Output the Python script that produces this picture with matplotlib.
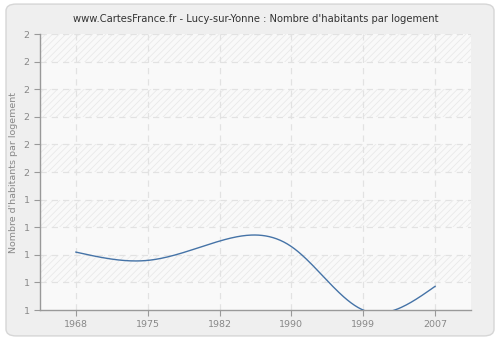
import numpy as np
import matplotlib
matplotlib.use("Agg")
import matplotlib.pyplot as plt
from matplotlib.patches import FancyBboxPatch
from matplotlib.ticker import FormatStrFormatter

# Données
annees = ["1968", "1975", "1982", "1990", "1999", "2007"]
habitants_par_logement = [1.21, 1.18, 1.25, 1.23, 1.0, 1.086]
yticks = np.linspace(1.0, 2.0, 11)


def spline_naturelle(x, y, xs):
    # spline cubique naturelle, uniquement pour lisser le tracé
    x = np.asarray(x, float)
    y = np.asarray(y, float)
    n = len(x)
    h = np.diff(x)
    A = np.zeros((n, n))
    b = np.zeros(n)
    A[0, 0] = A[-1, -1] = 1
    for i in range(1, n - 1):
        A[i, i - 1] = h[i - 1]
        A[i, i] = 2 * (h[i - 1] + h[i])
        A[i, i + 1] = h[i]
        b[i] = 3 * ((y[i + 1] - y[i]) / h[i] - (y[i] - y[i - 1]) / h[i - 1])
    c = np.linalg.solve(A, b)
    out = np.empty_like(xs)
    for k, xv in enumerate(xs):
        i = min(max(np.searchsorted(x, xv) - 1, 0), n - 2)
        dx = xv - x[i]
        bi = (y[i + 1] - y[i]) / h[i] - h[i] * (2 * c[i] + c[i + 1]) / 3
        di = (c[i + 1] - c[i]) / (3 * h[i])
        out[k] = y[i] + bi * dx + c[i] * dx ** 2 + di * dx ** 3
    return out


plt.rcParams["hatch.linewidth"] = 0.6

fig = plt.figure(figsize=(5, 3.4), dpi=100)
fig.patch.set_facecolor("white")
fond = FancyBboxPatch((0.012, 0.012), 0.976, 0.976,
                      boxstyle="round,pad=0,rounding_size=0.02",
                      transform=fig.transFigure, facecolor="#efefef",
                      edgecolor="#d6d6d6", linewidth=1, zorder=-10)
fig.patches.append(fond)

ax = fig.add_axes([0.08, 0.088, 0.862, 0.812])
ax.set_zorder(1)
ax.set_facecolor("#f9f9f9")

xpos = np.arange(len(annees))

# bandes alternées hachurées
for i in range(len(yticks) - 1):
    if (len(yticks) - 2 - i) % 2 == 0:
        ax.axhspan(yticks[i], yticks[i + 1], facecolor="#f9f9f9",
                   edgecolor="#e9e9e9", hatch="/////", linewidth=0, zorder=0)

# grille
for yv in yticks[1:]:
    ax.axhline(yv, color="#e2e2e2", linestyle=(0, (5, 4)), linewidth=0.9, zorder=1)
for xv in xpos:
    ax.axvline(xv, color="#e2e2e2", linestyle=(0, (5, 4)), linewidth=0.9, zorder=1)

xs = np.linspace(xpos[0], xpos[-1], 300)
ax.plot(xs, spline_naturelle(xpos, habitants_par_logement, xs),
        color="#4573a7", linewidth=1.0, zorder=3)

ax.set_xlim(-0.5, len(annees) - 0.5)
ax.set_ylim(1.0, 2.0)
ax.set_xticks(xpos)
ax.set_xticklabels(annees)
ax.set_yticks(yticks)
ax.yaxis.set_major_formatter(FormatStrFormatter("%.0f"))

for s in ["top", "right"]:
    ax.spines[s].set_visible(False)
for s in ["left", "bottom"]:
    ax.spines[s].set_color("#999999")
    ax.spines[s].set_linewidth(1)
ax.tick_params(colors="#999999", labelcolor="#888888", labelsize=6.8,
               length=4, width=0.8)

ax.set_ylabel("Nombre d'habitants par logement", color="#888888", fontsize=6.8)
ax.set_title("www.CartesFrance.fr - Lucy-sur-Yonne : Nombre d'habitants par logement",
             color="#333333", fontsize=7.2, pad=9)

fig.savefig("out.png", dpi=100, facecolor=fig.get_facecolor())
